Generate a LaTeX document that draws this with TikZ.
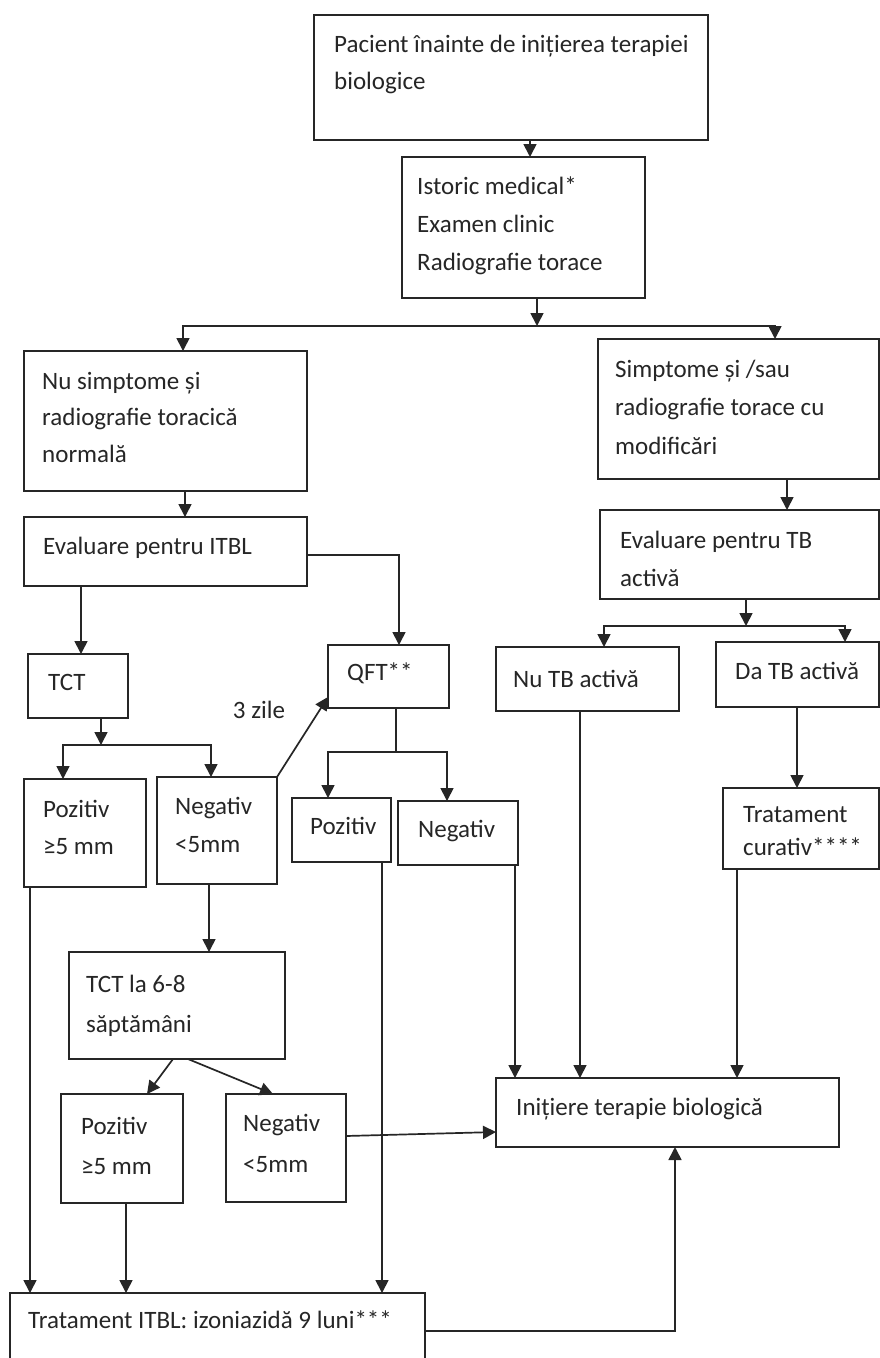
\documentclass[tikz,border=0pt]{standalone}
\usepackage{fontspec}
\setmainfont{Carlito}
\usetikzlibrary{arrows.meta}
% strut that fixes the top of the first text line in a box
\newcommand\lnstrut{\rule{0pt}{27pt}}
% \flowbox{name}{x1}{y1}{x2}{y2}: empty framed box between two corners (pixel units, y downwards)
\newcommand\flowbox[5]{\node[box, minimum width=#4-#2, minimum height=#5-#3] (#1) at (#2,#3) {};}
\begin{document}
\begin{tikzpicture}[x=1pt,y=-1pt,
  box/.style={draw=black!85, line width=1.9pt, anchor=north west, inner sep=0pt, outer sep=0pt},
  txt/.style={anchor=north west, inner sep=0pt, align=left, text=black!85, font=\fontsize{25}{#1}\selectfont},
  txt/.default=38,
  lbl/.style={inner sep=0pt, text=black!85, font=\fontsize{25}{30}\selectfont},
  ln/.style={draw=black!85, line width=1.7pt},
  arr/.style={ln, -{Triangle[length=13pt,width=13pt]}}]
\fill[white] (0,0) rectangle (880,1358);
\clip (0,0) rectangle (880,1358);

% ---- boxes ----
\flowbox{A}{314}{15}{708}{140}
\flowbox{B}{402}{157}{645}{298}
\flowbox{C}{24}{351}{307}{491}
\flowbox{D}{598}{339}{879}{479}
\flowbox{E}{24}{517}{307}{586}
\flowbox{F}{600}{510}{879}{599}
\flowbox{G}{496}{647}{679}{711}
\flowbox{H}{716}{642}{879}{707}
\flowbox{I}{723}{788}{879}{869}
\flowbox{TCT}{28}{654}{128}{718}
\flowbox{QFT}{328}{645}{449}{708}
\flowbox{J}{24}{779}{146}{887}
\flowbox{K}{157}{777}{277}{884}
\flowbox{L}{292}{798}{391}{862}
\flowbox{M}{398}{801}{518}{865}
\flowbox{N}{69}{952}{285}{1059}
\flowbox{O}{61}{1094}{183}{1203}
\flowbox{P}{226}{1094}{346}{1202}
\flowbox{Init}{496}{1078}{839}{1147}
\flowbox{T}{10}{1293}{425}{1385}

% ---- texts ----
\node[txt=37] (A-t) at (334,25) {\lnstrut Pacient înainte de inițierea terapiei\\biologice};
\node[txt=38] (B-t) at (417,167) {\lnstrut Istoric medical*\\Examen clinic\\Radiografie torace};
\node[txt=36.5] (C-t) at (42,362) {\lnstrut Nu simptome și\\radiografie toracică\\normală};
\node[txt=38.5] (D-t) at (615,350) {\lnstrut Simptome și /sau\\radiografie torace cu\\modificări};
\node[txt] (E-t) at (43,527) {\lnstrut Evaluare pentru ITBL};
\node[txt=38] (F-t) at (620,521) {\lnstrut Evaluare pentru TB\\activă};
\node[txt] (G-t) at (513,660) {\lnstrut Nu TB activă};
\node[txt] (H-t) at (735,652) {\lnstrut Da TB activă};
\node[txt=33] (I-t) at (743,795) {\lnstrut Tratament\\curativ****};
\node[txt] (TCT-t) at (48,663) {\lnstrut TCT};
\node[txt] (QFT-t) at (347,653) {\lnstrut QFT**};
\node[txt=37] (J-t) at (43,790) {\lnstrut Pozitiv\\≥5 mm};
\node[txt=38] (K-t) at (175,787) {\lnstrut Negativ\\<5mm};
\node[txt] (L-t) at (310,807) {\lnstrut Pozitiv};
\node[txt] (M-t) at (418,810) {\lnstrut Negativ};
\node[txt=40] (N-t) at (86,965) {\lnstrut TCT la 6-8\\săptămâni};
\node[txt=40] (O-t) at (81,1107) {\lnstrut Pozitiv\\≥5 mm};
\node[txt=41] (P-t) at (243,1104) {\lnstrut Negativ\\<5mm};
\node[txt] (Init-t) at (516,1088) {\lnstrut Inițiere terapie biologică};
\node[txt] (T-t) at (28,1301) {\lnstrut Tratament ITBL: izoniazidă 9 luni***};
\node[lbl] (zile) at (259,710) {3 zile};

% ---- connector positions ----
\coordinate (xAB) at (530,0);
\coordinate (jB) at (537,326);
\coordinate (xC) at (183,0);
\coordinate (xD) at (775,0);
\coordinate (xCE) at (185,0);
\coordinate (xDF) at (787,0);
\coordinate (jF) at (746,626);
\coordinate (xG) at (604,0);
\coordinate (xH) at (845,0);
\coordinate (xHI) at (797,0);
\coordinate (xET) at (81,0);
\coordinate (yEQ) at (0,555);
\coordinate (xEQ) at (399,0);
\coordinate (jT) at (101,745);
\coordinate (xJ) at (63,0);
\coordinate (xK) at (211,0);
\coordinate (yKQ) at (0,697);
\coordinate (jQ) at (396,752);
\coordinate (xL) at (328,0);
\coordinate (xM) at (447,0);
\coordinate (xKN) at (209,0);
\coordinate (xNO1) at (173,0);
\coordinate (xNO2) at (147,0);
\coordinate (xNP1) at (188,0);
\coordinate (xNP2) at (273,0);
\coordinate (yPI1) at (0,1136);
\coordinate (yPI2) at (0,1132);
\coordinate (xMI) at (515,0);
\coordinate (xGI) at (580,0);
\coordinate (xII) at (737,0);
\coordinate (xJT) at (30,0);
\coordinate (xOT) at (126,0);
\coordinate (xLT) at (382,0);
\coordinate (yTI) at (0,1331);
\coordinate (xTI) at (675,0);

% ---- connectors ----
\draw[arr] (A.south -| xAB) -- (B.north -| xAB);
\draw[arr] (B.south -| jB) -- (jB);
\draw[arr] (jB) -| (C.north -| xC);
\draw[arr] (jB) -| (D.north -| xD);
\draw[arr] (C.south -| xCE) -- (E.north -| xCE);
\draw[arr] (D.south -| xDF) -- (F.north -| xDF);
\draw[arr] (F.south -| jF) -- (jF);
\draw[arr] (jF) -| (G.north -| xG);
\draw[arr] (jF) -| (H.north -| xH);
\draw[arr] (H.south -| xHI) -- (I.north -| xHI);
\draw[arr] (E.south -| xET) -- (TCT.north -| xET);
\draw[arr] (E.east |- yEQ) -| (QFT.north -| xEQ);
\draw[arr] (TCT.south -| jT) -- (jT);
\draw[arr] (jT) -| (J.north -| xJ);
\draw[arr] (jT) -| (K.north -| xK);
\draw[arr] (K.north east) -- (QFT.west |- yKQ);
\draw[ln] (QFT.south -| jQ) -- (jQ);
\draw[arr] (jQ) -| (L.north -| xL);
\draw[arr] (jQ) -| (M.north -| xM);
\draw[arr] (K.south -| xKN) -- (N.north -| xKN);
\draw[arr] (N.south -| xNO1) -- (O.north -| xNO2);
\draw[arr] (N.south -| xNP1) -- (P.north -| xNP2);
\draw[arr] (P.east |- yPI1) -- (Init.west |- yPI2);
\draw[arr] (M.south -| xMI) -- (Init.north -| xMI);
\draw[arr] (G.south -| xGI) -- (Init.north -| xGI);
\draw[arr] (I.south -| xII) -- (Init.north -| xII);
\draw[arr] (J.south -| xJT) -- (T.north -| xJT);
\draw[arr] (O.south -| xOT) -- (T.north -| xOT);
\draw[arr] (L.south -| xLT) -- (T.north -| xLT);
\draw[arr] (T.east |- yTI) -| (Init.south -| xTI);
\end{tikzpicture}
\end{document}
